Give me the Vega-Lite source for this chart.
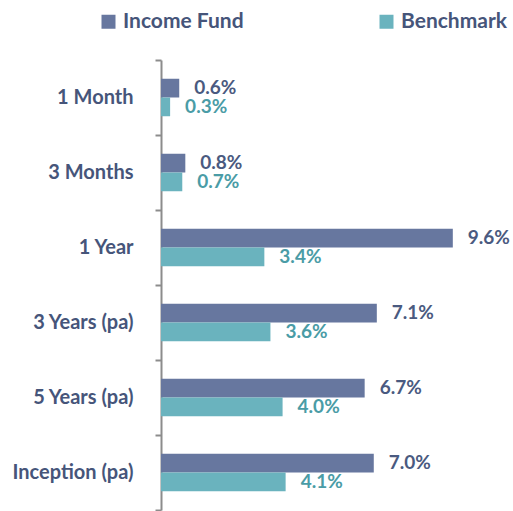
{
  "$schema": "https://vega.github.io/schema/vega-lite/v6.json",
  "width": 352,
  "height": 450,
  "autosize": {"type": "none"},
  "padding": {"left": 161, "top": 60, "right": 0, "bottom": 1},
  "config": {
    "view": {"stroke": null},
    "font": "Lato"
  },
  "data": {
    "values": [
      {"period": "1 Month", "series": "Income Fund", "value": 0.006},
      {"period": "1 Month", "series": "Benchmark", "value": 0.003},
      {"period": "3 Months", "series": "Income Fund", "value": 0.008},
      {"period": "3 Months", "series": "Benchmark", "value": 0.007},
      {"period": "1 Year", "series": "Income Fund", "value": 0.096},
      {"period": "1 Year", "series": "Benchmark", "value": 0.034},
      {"period": "3 Years (pa)", "series": "Income Fund", "value": 0.071},
      {"period": "3 Years (pa)", "series": "Benchmark", "value": 0.036},
      {"period": "5 Years (pa)", "series": "Income Fund", "value": 0.067},
      {"period": "5 Years (pa)", "series": "Benchmark", "value": 0.040},
      {"period": "Inception (pa)", "series": "Income Fund", "value": 0.070},
      {"period": "Inception (pa)", "series": "Benchmark", "value": 0.041}
    ]
  },
  "encoding": {
    "y": {
      "field": "period",
      "type": "nominal",
      "sort": null,
      "scale": {"paddingInner": 0, "paddingOuter": 0},
      "axis": {
        "title": null,
        "domainColor": "#8c8c8c",
        "domainWidth": 2,
        "tickColor": "#8c8c8c",
        "tickWidth": 2,
        "tickSize": 6,
        "tickBand": "extent",
        "labelPadding": 22,
        "labelFont": "Lato",
        "labelFontWeight": "bold",
        "labelFontSize": 20,
        "labelColor": "#46557A",
        "labelLimit": 200
      }
    },
    "yOffset": {
      "field": "series",
      "type": "nominal",
      "sort": ["Income Fund", "Benchmark"],
      "scale": {"paddingInner": 0, "paddingOuter": 1.206}
    },
    "x": {
      "field": "value",
      "type": "quantitative",
      "scale": {"domain": [0, 0.1158], "nice": false},
      "axis": null
    }
  },
  "layer": [
    {
      "mark": {"type": "bar"},
      "encoding": {
        "color": {
          "field": "series",
          "type": "nominal",
          "sort": ["Income Fund", "Benchmark"],
          "scale": {"domain": ["Income Fund", "Benchmark"], "range": ["#67779F", "#6AB3BE"]},
          "legend": {
            "title": null,
            "orient": "none",
            "direction": "horizontal",
            "legendX": -63,
            "legendY": -49,
            "symbolType": "square",
            "symbolSize": 196,
            "symbolStrokeWidth": 0,
            "symbolOpacity": 1,
            "labelFont": "Lato",
            "labelFontWeight": "bold",
            "labelFontSize": 21,
            "labelColor": "#46557A",
            "labelOffset": 4,
            "columnPadding": 132,
            "labelLimit": 300
          }
        }
      }
    },
    {
      "mark": {"type": "text", "align": "left", "baseline": "middle", "dx": 15, "fontWeight": "bold", "fontSize": 19, "font": "Lato"},
      "encoding": {
        "text": {"field": "value", "type": "quantitative", "format": ".1%"},
        "color": {
          "field": "series",
          "type": "nominal",
          "scale": {"domain": ["Income Fund", "Benchmark"], "range": ["#4A5A80", "#4A9CA6"]},
          "legend": null
        }
      }
    }
  ],
  "resolve": {"scale": {"color": "independent"}}
}
